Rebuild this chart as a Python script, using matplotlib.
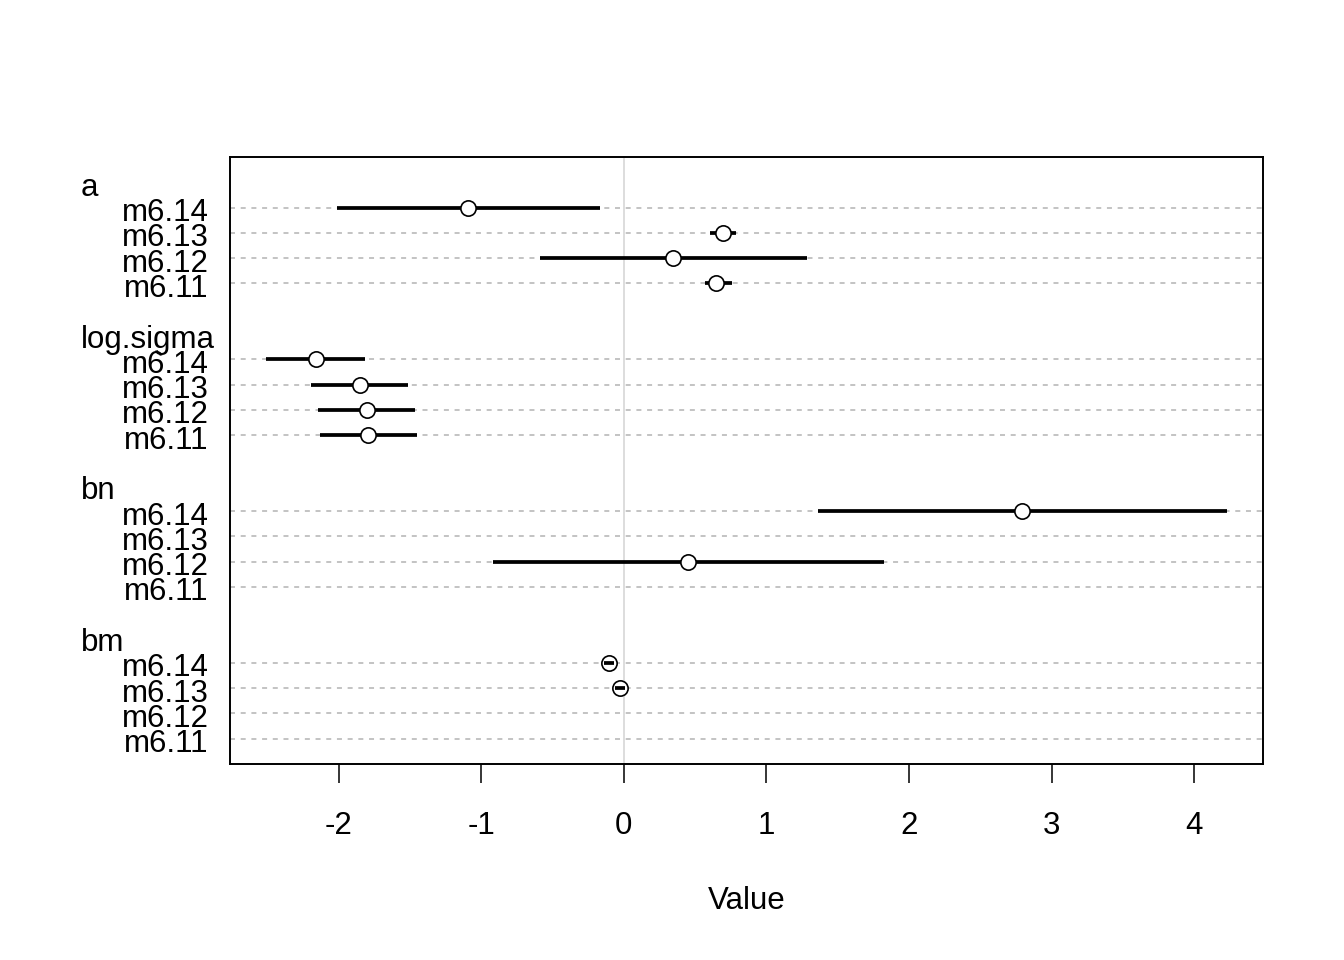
import matplotlib
matplotlib.use("Agg")
import matplotlib.pyplot as plt
import matplotlib.transforms as mtransforms
import numpy as np

plt.rcParams['font.family'] = ['Liberation Sans', 'DejaVu Sans']
plt.rcParams['lines.scale_dashes'] = False

params = ["a", "log.sigma", "bn", "bm"]
models = ["m6.14", "m6.13", "m6.12", "m6.11"]

# mean, lower, upper for each parameter (rows follow `models`); None = not in model
a_mean = [-1.093, 0.699, 0.348, 0.650]
a_lo = [-2.013, 0.608, -0.587, 0.573]
a_hi = [-0.165, 0.784, 1.282, 0.760]

ls_mean = [-2.161, -1.852, -1.803, -1.796]
ls_lo = [-2.506, -2.196, -2.147, -2.133]
ls_hi = [-1.817, -1.511, -1.462, -1.448]

bn_mean = [2.793, None, 0.453, None]
bn_lo = [1.360, None, -0.917, None]
bn_hi = [4.228, None, 1.824, None]

bm_mean = [-0.102, -0.025, None, None]
bm_lo = [-0.135, -0.058, None, None]
bm_hi = [-0.069, 0.008, None, None]

means = [a_mean, ls_mean, bn_mean, bm_mean]
lows = [a_lo, ls_lo, bn_lo, bm_lo]
highs = [a_hi, ls_hi, bn_hi, bm_hi]

xticks = [-2, -1, 0, 1, 2, 3, 4]

FS = 22.5

fig = plt.figure(figsize=(13.44, 9.6), dpi=100)
ax = fig.add_axes([230/1344, (960-764)/960, (1263-230)/1344, (764-157)/960])

xlim = (-2.761, 4.483)
ax.set_xlim(*xlim)
ax.set_ylim(0, 24)

# vertical zero line
ax.axvline(0, color='#d3d3d3', lw=1.1, zorder=1)

row_y = []
row_labels = []
group_y = []
y = 23
for g, p in enumerate(params):
    group_y.append(y)
    y -= 1
    for m_i, m in enumerate(models):
        row_y.append(y)
        row_labels.append(m)
        ax.plot(xlim, [y, y], color='#b3b3b3', lw=1.1, linestyle=(0, (3.6, 4.1)), zorder=1)
        mu = means[g][m_i]
        if mu is not None:
            lo = lows[g][m_i]
            hi = highs[g][m_i]
            ax.plot([lo, hi], [y, y], color='black', lw=2.7, solid_capstyle='butt', zorder=2)
            ax.plot([mu], [y], marker='o', ms=11, mfc='white', mec='black', mew=1.2,
                    linestyle='none', zorder=3)
            if (hi - lo) < 0.1:
                ax.plot([lo, hi], [y, y], color='black', lw=2.7, solid_capstyle='butt', zorder=4)
        y -= 1
    y -= 1

down = mtransforms.ScaledTranslation(0, -5.5/100, fig.dpi_scale_trans)

ax.set_yticks(row_y)
ax.set_yticklabels(row_labels, fontsize=FS)
ax.tick_params(axis='y', length=0, pad=15.5)
for lab in ax.get_yticklabels():
    lab.set_verticalalignment('center')
    lab.set_transform(lab.get_transform() + down)

trans = mtransforms.blended_transform_factory(fig.transFigure, ax.transData) + down
for p, gy in zip(params, group_y):
    fig.text(81/1344, gy, p, transform=trans, fontsize=FS, ha='left', va='center')

ax.set_xticks(xticks)
ax.set_xticklabels([str(t) for t in xticks], fontsize=FS)
ax.tick_params(axis='x', length=13.5, width=1.1, pad=20, direction='out')

for s in ax.spines.values():
    s.set_linewidth(1.4)

ax.set_xlabel("Value", fontsize=FS)
ax.xaxis.set_label_coords(0.5, (764-901)/607)
ax.xaxis.label.set_verticalalignment('center')

fig.savefig("out.png", dpi=100, facecolor='white')
